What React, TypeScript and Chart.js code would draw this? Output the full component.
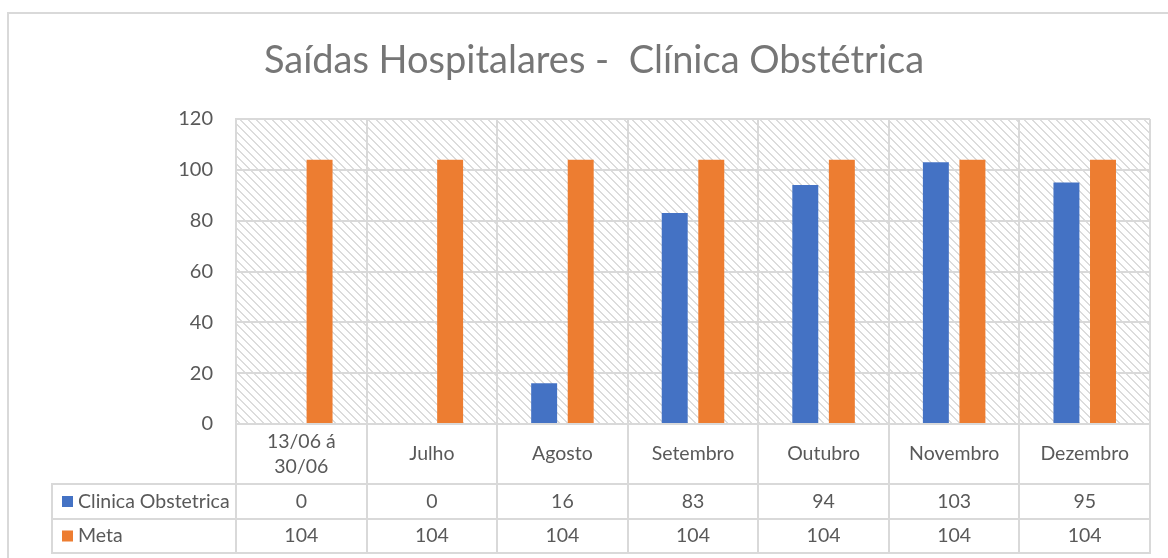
import React, { useEffect, useRef } from "react";
import { Chart, registerables } from "chart.js";

Chart.register(...registerables);

const chartTitle = "Saídas Hospitalares -  Clínica Obstétrica";
const categories: string[][] = [
  ["13/06 á", "30/06"],
  ["Julho"],
  ["Agosto"],
  ["Setembro"],
  ["Outubro"],
  ["Novembro"],
  ["Dezembro"],
];
const clinicaValues = [0, 0, 16, 83, 94, 103, 95];
const metaValues = [104, 104, 104, 104, 104, 104, 104];
const seriesNames = ["Clinica Obstetrica", "Meta"];
const seriesColors = ["#4472C4", "#ED7D31"];
const yMin = 0;
const yMax = 120;
const yStep = 20;

const FONT = "Lato, 'Open Sans', sans-serif";
const GRID = "#d9d9d9";
const TEXT = "#595959";

function makePattern(ctx: CanvasRenderingContext2D) {
  const c = document.createElement("canvas");
  c.width = 8;
  c.height = 8;
  const p = c.getContext("2d")!;
  p.fillStyle = "#ffffff";
  p.fillRect(0, 0, 8, 8);
  p.fillStyle = "#dcdcdc";
  for (let y = 0; y < 8; y++) {
    for (let x = 0; x < 8; x++) {
      const d = (((x - y) % 8) + 8) % 8;
      if (d === 0 || d === 1) p.fillRect(x, y, 1, 1);
    }
  }
  return ctx.createPattern(c, "repeat");
}

const tablePlugin = {
  id: "tablePlugin",
  beforeDraw(chart: any) {
    const { ctx, chartArea } = chart;
    ctx.save();
    ctx.fillStyle = "#ffffff";
    ctx.fillRect(0, 0, chart.width, chart.height);
    const pat = makePattern(ctx);
    if (pat) {
      ctx.fillStyle = pat;
      ctx.fillRect(chartArea.left, chartArea.top, chartArea.right - chartArea.left, chartArea.bottom - chartArea.top);
    }
    // outer border
    ctx.strokeStyle = GRID;
    ctx.lineWidth = 2;
    ctx.strokeRect(8, 13, 1300, 700);
    ctx.restore();
  },
  afterDraw(chart: any) {
    const { ctx, chartArea } = chart;
    const xs = chart.scales.x;
    const n = categories.length;
    const catW = (chartArea.right - chartArea.left) / n;
    const top = chartArea.bottom;
    const rowCat = top + 60;
    const row1 = rowCat + 35;
    const row2 = row1 + 34;
    const legendLeft = 52;

    ctx.save();
    ctx.strokeStyle = GRID;
    ctx.lineWidth = 2;
    ctx.beginPath();
    for (let i = 0; i <= n; i++) {
      const x = Math.round(chartArea.left + i * catW);
      ctx.moveTo(x, top);
      ctx.lineTo(x, row2);
    }
    ctx.moveTo(legendLeft, rowCat);
    ctx.lineTo(legendLeft, row2);
    [rowCat, row1, row2].forEach((y) => {
      ctx.moveTo(legendLeft - 1, y);
      ctx.lineTo(chartArea.right + 1, y);
    });
    ctx.stroke();

    ctx.fillStyle = TEXT;
    ctx.textAlign = "center";
    ctx.textBaseline = "middle";
    ctx.font = `19.5px ${FONT}`;
    categories.forEach((lines, i) => {
      const cx = xs.getPixelForValue(i);
      const mid = (top + rowCat) / 2;
      const lh = 25;
      lines.forEach((ln, j) => {
        ctx.fillText(ln, cx, mid + (j - (lines.length - 1) / 2) * lh);
      });
      ctx.fillText(String(clinicaValues[i]), cx, (rowCat + row1) / 2);
      ctx.fillText(String(metaValues[i]), cx, (row1 + row2) / 2);
    });

    // legend keys
    ctx.textAlign = "left";
    const rows = [[rowCat, row1], [row1, row2]];
    rows.forEach(([a, b], k) => {
      const m = (a + b) / 2;
      ctx.fillStyle = seriesColors[k];
      ctx.fillRect(62, m - 5.5, 11, 11);
      ctx.fillStyle = TEXT;
      ctx.fillText(seriesNames[k], 78, m);
    });

    // title
    ctx.fillStyle = "#767676";
    ctx.textAlign = "center";
    ctx.textBaseline = "alphabetic";
    ctx.font = `38px ${FONT}`;
    ctx.fillText(chartTitle, 594, 73);
    ctx.restore();
  },
};

export default function App() {
  const ref = useRef<HTMLCanvasElement | null>(null);
  useEffect(() => {
    if (!ref.current) return;
    const chart = new Chart(ref.current, {
      type: "bar",
      data: {
        labels: categories.map((c) => c.join(" ")),
        datasets: [
          {
            label: seriesNames[0],
            data: clinicaValues,
            backgroundColor: seriesColors[0],
            categoryPercentage: 0.56,
            barPercentage: 0.71,
          },
          {
            label: seriesNames[1],
            data: metaValues,
            backgroundColor: seriesColors[1],
            categoryPercentage: 0.56,
            barPercentage: 0.71,
          },
        ],
      },
      options: {
        animation: false,
        responsive: true,
        maintainAspectRatio: false,
        layout: { padding: { left: 0, right: 18, top: 119, bottom: 134 } },
        plugins: {
          legend: { display: false },
          title: { display: false },
          tooltip: { enabled: false },
        },
        scales: {
          x: {
            grid: { color: GRID, lineWidth: 2, drawTicks: false, offset: true },
            border: { color: GRID, width: 2 },
            ticks: { display: false },
          },
          y: {
            min: yMin,
            max: yMax,
            grid: { color: GRID, lineWidth: 2, drawTicks: false },
            border: { color: GRID, width: 2 },
            ticks: {
              stepSize: yStep,
              padding: 23,
              color: TEXT,
              font: { family: FONT, size: 20 },
            },
            afterFit(scale: any) {
              scale.width = 236;
            },
          },
        },
      },
      plugins: [tablePlugin],
    });
    return () => chart.destroy();
  }, []);
  return (
    <div style={{ position: "fixed", left: 0, top: 0, width: 1168, height: 558 }}>
      <canvas ref={ref} />
    </div>
  );
}
